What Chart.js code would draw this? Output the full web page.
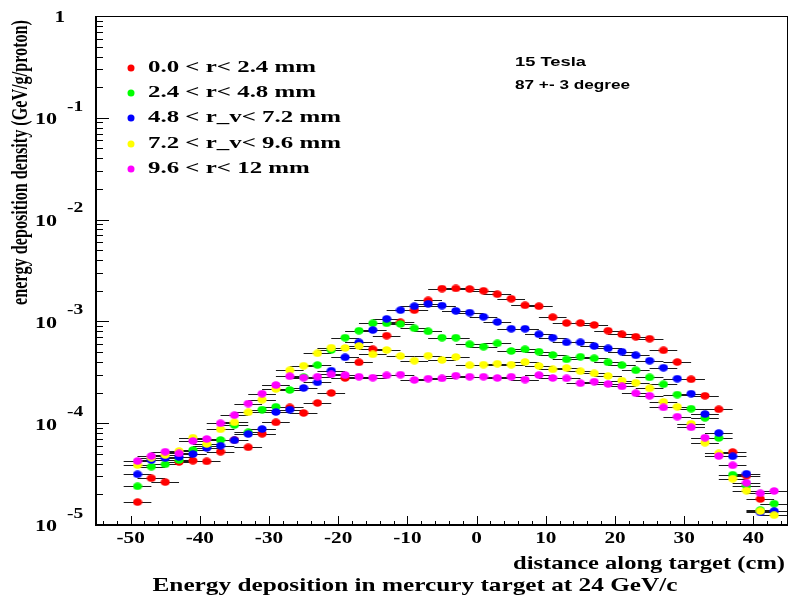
<!DOCTYPE html>
<html>
<head>
<meta charset="UTF-8">
<title>Energy deposition in mercury target</title>
<script src="https://cdn.jsdelivr.net/npm/chart.js"></script>
<style>
body{margin:0; background:#fff;}
</style>
</head>
<body>
<canvas id="myChart" width="792" height="597"></canvas>
<script>
// bin centres (cm) and half bin width
var distance = [-49,-47,-45,-43,-41,-39,-37,-35,-33,-31,-29,-27,-25,-23,-21,-19,-17,-15,-13,-11,-9,-7,-5,-3,-1,
                1,3,5,7,9,11,13,15,17,19,21,23,25,27,29,31,33,35,37,39,41,43];
var xErr = 2;

// GeV/g/proton, one array per radial ring
var ring1 = [1.68e-5,2.88e-5,2.64e-5,4.16e-5,4.28e-5,4.22e-5,5.25e-5,6.84e-5,5.80e-5,7.87e-5,
             1.02e-4,1.43e-4,1.26e-4,1.58e-4,1.98e-4,2.78e-4,3.96e-4,5.32e-4,7.24e-4,9.80e-4,
             1.29e-3,1.61e-3,2.10e-3,2.11e-3,2.08e-3,2.00e-3,1.85e-3,1.67e-3,1.44e-3,1.41e-3,
             1.10e-3,9.64e-4,9.64e-4,9.22e-4,8.10e-4,7.47e-4,7.07e-4,6.76e-4,5.20e-4,3.99e-4,
             2.70e-4,1.86e-4,1.37e-4,5.21e-5,3.05e-5,1.80e-5,null];
var ring2 = [2.40e-5,3.74e-5,3.95e-5,4.35e-5,5.45e-5,5.97e-5,6.84e-5,9.60e-5,8.14e-5,1.36e-4,
             1.45e-4,2.12e-4,2.84e-4,3.73e-4,5.24e-4,6.92e-4,8.10e-4,9.58e-4,9.58e-4,9.43e-4,
             8.56e-4,7.99e-4,6.92e-4,6.92e-4,5.96e-4,5.64e-4,6.09e-4,5.12e-4,5.32e-4,5.04e-4,
             4.68e-4,4.24e-4,4.50e-4,4.34e-4,3.96e-4,3.71e-4,3.31e-4,2.82e-4,2.41e-4,1.91e-4,
             1.39e-4,1.13e-4,7.16e-5,3.12e-5,2.43e-5,1.40e-5,1.62e-5];
var ring3 = [3.15e-5,4.35e-5,4.55e-5,4.66e-5,4.98e-5,5.71e-5,6.01e-5,6.79e-5,7.83e-5,8.77e-5,
             1.29e-4,1.36e-4,2.22e-4,2.52e-4,3.28e-4,4.44e-4,6.23e-4,8.23e-4,1.06e-3,1.29e-3,
             1.41e-3,1.49e-3,1.43e-3,1.27e-3,1.22e-3,1.11e-3,9.87e-4,8.48e-4,8.48e-4,7.47e-4,
             6.92e-4,6.23e-4,6.23e-4,5.73e-4,5.44e-4,5.04e-4,4.65e-4,4.11e-4,3.51e-4,2.74e-4,
             1.95e-4,1.23e-4,8.01e-5,4.73e-5,3.19e-5,1.33e-5,1.37e-5];
var ring4 = [3.88e-5,4.58e-5,4.87e-5,5.33e-5,7.21e-5,6.25e-5,8.71e-5,1.02e-4,1.28e-4,1.70e-4,
             2.17e-4,3.31e-4,3.67e-4,4.86e-4,5.52e-4,5.48e-4,5.73e-4,4.75e-4,5.24e-4,4.57e-4,
             4.11e-4,4.61e-4,4.18e-4,4.47e-4,3.71e-4,3.76e-4,3.84e-4,3.76e-4,3.99e-4,3.65e-4,
             3.38e-4,3.48e-4,3.24e-4,3.09e-4,2.91e-4,2.62e-4,2.50e-4,2.20e-4,1.62e-4,1.45e-4,
             9.89e-5,6.43e-5,5.06e-5,2.85e-5,2.17e-5,1.37e-5,1.25e-5];
var ring5 = [4.25e-5,4.76e-5,5.25e-5,5.06e-5,6.69e-5,7.00e-5,9.98e-5,1.20e-4,1.56e-4,1.95e-4,
             2.37e-4,2.89e-4,2.80e-4,2.86e-4,3.02e-4,2.97e-4,2.86e-4,2.80e-4,2.95e-4,3.00e-4,
             2.66e-4,2.74e-4,2.76e-4,2.93e-4,2.86e-4,2.86e-4,2.78e-4,2.86e-4,2.68e-4,2.97e-4,
             2.78e-4,2.76e-4,2.47e-4,2.56e-4,2.43e-4,2.30e-4,1.97e-4,1.86e-4,1.43e-4,1.16e-4,
             9.12e-5,7.21e-5,4.76e-5,3.86e-5,2.60e-5,2.05e-5,2.16e-5];

var seriesLabels = ['0.0 < r< 2.4 mm', '2.4 < r< 4.8 mm', '4.8 < r_v< 7.2 mm', '7.2 < r_v< 9.6 mm', '9.6 < r< 12 mm'];
var seriesColors = ['#ff0000', '#00ff00', '#0000ff', '#ffff00', '#ff00ff'];
var xTicks = [-50, -40, -30, -20, -10, 0, 10, 20, 30, 40];
var yExponents = [0, -1, -2, -3, -4, -5];
var notes = ['15 Tesla', '87 +- 3 degree'];

var SERIF = '"Liberation Serif", "Times New Roman", serif';
var SANS = '"Liberation Sans", Arial, sans-serif';

function drawText(ctx, s, x, y, o) {
	ctx.save();
	ctx.font = 'bold ' + o.size + 'px ' + (o.family || SERIF);
	ctx.fillStyle = '#000';
	ctx.textAlign = o.align || 'left';
	ctx.textBaseline = 'middle';
	var sx = o.sx || 1;
	if (o.w) sx = o.w / ctx.measureText(s).width;
	ctx.translate(x, y);
	if (o.rot) ctx.rotate(o.rot);
	ctx.scale(sx, o.sy || 1);
	ctx.fillText(s, 0, 0);
	ctx.restore();
}

// slightly wide dot, like the stretched markers of the original
function dot(color) {
	var c = document.createElement('canvas');
	c.width = 10; c.height = 8;
	var g = c.getContext('2d');
	g.fillStyle = color;
	g.beginPath();
	g.ellipse(5, 4, 4.6, 3.8, 0, 0, Math.PI * 2);
	g.fill();
	return c;
}

// horizontal error bars, drawn under the markers
var errorBars = {
	id: 'errorBars',
	beforeDatasetsDraw: function(chart) {
		var ctx = chart.ctx, xs = chart.scales.x, ys = chart.scales.y;
		ctx.save();
		ctx.strokeStyle = '#1a1a1a';
		ctx.lineWidth = 1;
		chart.data.datasets.forEach(function(ds) {
			ds.data.forEach(function(p) {
				var py = Math.round(ys.getPixelForValue(p.y)) + 0.5;
				ctx.beginPath();
				ctx.moveTo(xs.getPixelForValue(p.x - xErr), py);
				ctx.lineTo(xs.getPixelForValue(p.x + xErr), py);
				ctx.stroke();
			});
		});
		ctx.restore();
	}
};

// frame, inward ticks, labels, legend and notes
var decor = {
	id: 'decor',
	afterDraw: function(chart) {
		var ctx = chart.ctx, a = chart.chartArea, xs = chart.scales.x, ys = chart.scales.y;
		ctx.save();
		ctx.strokeStyle = '#000';
		ctx.lineWidth = 1;
		ctx.strokeRect(a.left + 0.5, a.top + 0.5, a.right - a.left - 1, a.bottom - a.top);
		ctx.lineWidth = 2;
		ctx.beginPath();
		ctx.moveTo(a.left, a.top); ctx.lineTo(a.left, a.bottom); ctx.lineTo(a.right, a.bottom);
		ctx.stroke();

		ctx.lineWidth = 1;
		ctx.beginPath();
		// y ticks
		yExponents.forEach(function(e) {
			var py = Math.round(ys.getPixelForValue(Math.pow(10, e))) + 0.5;
			ctx.moveTo(a.left, py); ctx.lineTo(a.left + 13, py);
			if (e > -5) {
				for (var k = 2; k <= 9; k++) {
					var my = Math.round(ys.getPixelForValue(k * Math.pow(10, e - 1))) + 0.5;
					ctx.moveTo(a.left, my); ctx.lineTo(a.left + 7, my);
				}
			}
		});
		// x ticks
		for (var v = -54; v <= 44; v += 2) {
			var px = Math.round(xs.getPixelForValue(v)) + 0.5;
			var len = (v % 10 === 0) ? 9 : 4;
			ctx.moveTo(px, a.bottom); ctx.lineTo(px, a.bottom - len);
		}
		ctx.stroke();
		ctx.restore();

		xTicks.forEach(function(t) {
			drawText(ctx, String(t), xs.getPixelForValue(t), a.bottom + 14, {size: 17, align: 'center', sx: 1.25});
		});
		yExponents.forEach(function(e) {
			var py = ys.getPixelForValue(Math.pow(10, e));
			if (e === 0) {
				drawText(ctx, '1', a.left - 31, py + 2, {size: 17, align: 'right', sx: 1.25});
			} else {
				drawText(ctx, '10', a.left - 39, py + 2, {size: 17, align: 'right', sx: 1.3});
				drawText(ctx, String(e), a.left - 29, py - 11, {size: 15, align: 'left', sx: 1.3});
			}
		});

		drawText(ctx, 'distance along target (cm)', 785, 564, {size: 19, align: 'right', w: 272});
		drawText(ctx, 'Energy deposition in mercury target at 24 GeV/c', 415, 586, {size: 19, align: 'center', w: 525});
		drawText(ctx, 'energy deposition density (GeV/g/proton)', 21, 305, {size: 17, align: 'left', w: 285, sy: 1.3, rot: -Math.PI / 2});

		// legend
		ctx.save();
		ctx.font = 'bold 17px ' + SERIF;
		var lsx = 168 / ctx.measureText(seriesLabels[0]).width;
		ctx.restore();
		var rows = [68, 93, 118, 144, 169];
		seriesLabels.forEach(function(lab, i) {
			ctx.save();
			ctx.fillStyle = seriesColors[i];
			ctx.beginPath();
			ctx.arc(131, rows[i], 3.5, 0, Math.PI * 2);
			ctx.fill();
			ctx.restore();
			drawText(ctx, lab, 148, rows[i], {size: 17, sx: lsx});
		});

		drawText(ctx, notes[0], 515, 63, {size: 12, family: SANS, w: 71});
		drawText(ctx, notes[1], 515, 86, {size: 12, family: SANS, w: 115});
	}
};

var series = [ring1, ring2, ring3, ring4, ring5];
var datasets = series.map(function(vals, i) {
	var pts = [];
	distance.forEach(function(d, j) {
		if (vals[j] != null) pts.push({x: d, y: vals[j]});
	});
	return {
		label: seriesLabels[i],
		data: pts,
		backgroundColor: seriesColors[i],
		pointStyle: dot(seriesColors[i]),
		pointRadius: 4,
		pointHoverRadius: 4,
		pointBorderWidth: 0,
		order: 4 - i
	};
});

new Chart(document.getElementById('myChart'), {
	type: 'scatter',
	data: {datasets: datasets},
	options: {
		responsive: false,
		animation: false,
		events: [],
		layout: {padding: {left: 96, right: 2, top: 16, bottom: 72}},
		scales: {
			x: {type: 'linear', min: -55, max: 45, display: false},
			y: {type: 'logarithmic', min: 1e-5, max: 1, display: false}
		},
		plugins: {
			legend: {display: false},
			tooltip: {enabled: false}
		}
	},
	plugins: [errorBars, decor]
});
</script>
</body>
</html>
